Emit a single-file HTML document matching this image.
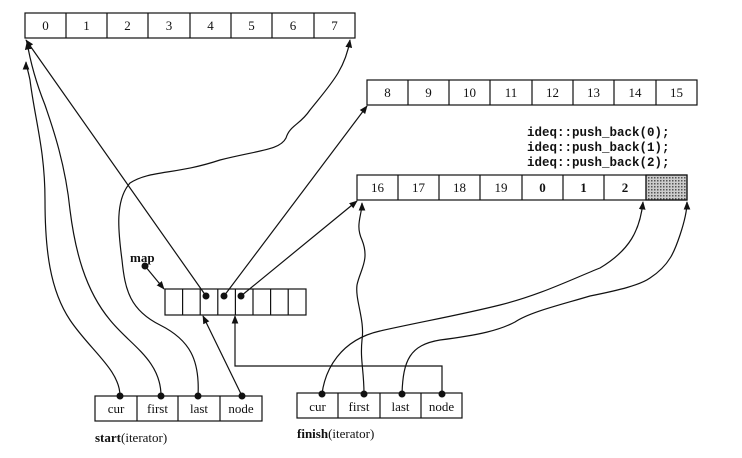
<!DOCTYPE html>
<html><head><meta charset="utf-8"><style>
html,body{margin:0;padding:0;background:#fff;}
svg{display:block;}
text{font-family:"Liberation Serif",serif;font-size:13px;fill:#111;}
.m{font-family:"Liberation Mono",monospace;font-size:12.5px;font-weight:bold;}
</style></head><body>
<svg width="742" height="458" viewBox="0 0 742 458" xmlns="http://www.w3.org/2000/svg">
<defs>
<marker id="a" viewBox="0 0 10 10" refX="9" refY="5" markerWidth="7" markerHeight="7" orient="auto-start-reverse"><path d="M0,1 L10,5 L0,9 z" fill="#111"/></marker>
<pattern id="p" width="3" height="3" patternUnits="userSpaceOnUse"><rect width="3" height="3" fill="#ccc"/><rect width="1.5" height="1.5" fill="#555"/></pattern>
</defs>
<g stroke="#111" stroke-width="1.2" fill="none">
<rect x="25" y="13" width="330" height="25"/>
<path d="M66 13v25M107 13v25M148 13v25M190 13v25M231 13v25M272 13v25M314 13v25"/>
<rect x="367" y="80" width="330" height="25"/>
<path d="M408 80v25M449 80v25M490 80v25M532 80v25M573 80v25M614 80v25M656 80v25"/>
<rect x="646" y="175" width="41" height="25" fill="url(#p)"/>
<rect x="357" y="175" width="330" height="25"/>
<path d="M398 175v25M439 175v25M480 175v25M522 175v25M563 175v25M604 175v25M646 175v25"/>
<rect x="165" y="289" width="141" height="26"/>
<path d="M182.6 289v26M200.2 289v26M217.8 289v26M235.4 289v26M253 289v26M270.6 289v26M288.2 289v26"/>
<rect x="95" y="396" width="167" height="25"/>
<path d="M137 396v25M178 396v25M220 396v25"/>
<rect x="297" y="393" width="165" height="25"/>
<path d="M338 393v25M380 393v25M421 393v25"/>
<!-- map pointers -->
<path d="M145 266 L164 289" marker-end="url(#a)"/>
<path d="M206 296 L26 40" marker-end="url(#a)"/>
<path d="M224 296 L367 106" marker-end="url(#a)"/>
<path d="M241 296 L357 201" marker-end="url(#a)"/>
<path d="M242 396 L203 316" marker-end="url(#a)"/>
<path d="M442 394 V366 H235 V316" marker-end="url(#a)"/>
<!-- start wavy -->
<path d="M120 396 C120 370 90 350 70 320 C50 290 45 250 45 200 C45 150 35 120 30 80 C28 70 26 65 26 62" marker-end="url(#a)"/>
<path d="M161 396 C161 360 130 345 110 320 C85 290 75 250 70 210 C65 160 50 120 45 105 C35 80 30 60 27 42" marker-end="url(#a)"/>
<path d="M198 396 C200 360 190 340 160 325 C130 310 125 290 122 260 C118 230 115 200 130 183 C150 170 175 175 220 160 C260 150 280 150 286 138 C290 125 300 125 310 110 C330 85 345 70 350 40" marker-end="url(#a)"/>
<!-- finish wavy -->
<path d="M322 394 C325 370 340 340 380 331 C420 322 460 315 500 305 C540 295 570 280 600 268 C630 250 640 230 643 202" marker-end="url(#a)"/>
<path d="M364 394 C364 370 360 360 362 340 C365 320 355 300 357 285 C360 270 370 260 362 240 C355 225 362 215 362 203" marker-end="url(#a)"/>
<path d="M402 394 C403 360 410 345 440 340 C480 335 500 330 515 322 C530 312 560 305 590 296 C620 290 640 285 650 278 C670 265 675 250 680 235 C685 220 687 210 687 202" marker-end="url(#a)"/>
</g>
<g fill="#111">
<circle cx="145" cy="266" r="3.5"/>
<circle cx="206" cy="296" r="3.5"/><circle cx="224" cy="296" r="3.5"/><circle cx="241" cy="296" r="3.5"/>
<circle cx="120" cy="396" r="3.5"/><circle cx="161" cy="396" r="3.5"/><circle cx="198" cy="396" r="3.5"/><circle cx="242" cy="396" r="3.5"/>
<circle cx="322" cy="394" r="3.5"/><circle cx="364" cy="394" r="3.5"/><circle cx="402" cy="394" r="3.5"/><circle cx="442" cy="394" r="3.5"/>
</g>
<g text-anchor="middle">
<text x="45.5" y="30">0</text><text x="86.5" y="30">1</text><text x="127.5" y="30">2</text><text x="169" y="30">3</text><text x="210.5" y="30">4</text><text x="251.5" y="30">5</text><text x="293" y="30">6</text><text x="334.5" y="30">7</text>
<text x="387.5" y="97">8</text><text x="428.5" y="97">9</text><text x="469.5" y="97">10</text><text x="511" y="97">11</text><text x="552.5" y="97">12</text><text x="593.5" y="97">13</text><text x="635" y="97">14</text><text x="676.5" y="97">15</text>
<text x="377.5" y="192">16</text><text x="418.5" y="192">17</text><text x="459.5" y="192">18</text><text x="501" y="192">19</text><text x="542.5" y="192" font-weight="bold">0</text><text x="583.5" y="192" font-weight="bold">1</text><text x="625" y="192" font-weight="bold">2</text>
<text x="116" y="413">cur</text><text x="157.5" y="413">first</text><text x="199" y="413">last</text><text x="241" y="413">node</text>
<text x="317.5" y="411">cur</text><text x="359" y="411">first</text><text x="400.5" y="411">last</text><text x="441.5" y="411">node</text>
</g>
<text x="130" y="262" font-weight="bold" font-size="14">map</text>
<text x="95" y="442"><tspan font-weight="bold">start</tspan>(iterator)</text>
<text x="297" y="438"><tspan font-weight="bold">finish</tspan>(iterator)</text>
<text class="m" x="527" y="136">ideq::push_back(0);</text>
<text class="m" x="527" y="151">ideq::push_back(1);</text>
<text class="m" x="527" y="166">ideq::push_back(2);</text>
</svg>
</body></html>
